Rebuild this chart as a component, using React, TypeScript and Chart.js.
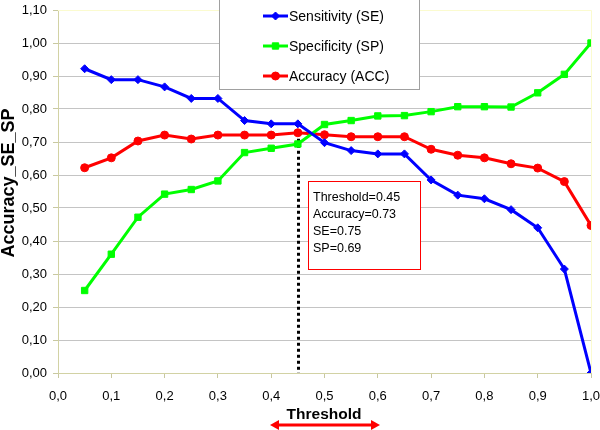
import React, { useEffect, useRef } from "react";
import { Chart, registerables } from "chart.js";

Chart.register(...registerables);

const thresholds = [0.05, 0.1, 0.15, 0.2, 0.25, 0.3, 0.35, 0.4, 0.45, 0.5, 0.55, 0.6, 0.65, 0.7, 0.75, 0.8, 0.85, 0.9, 0.95, 1.0];
const sensitivity = [0.922, 0.889, 0.889, 0.867, 0.832, 0.832, 0.765, 0.755, 0.755, 0.698, 0.674, 0.664, 0.664, 0.585, 0.539, 0.528, 0.495, 0.44, 0.315, 0.0];
const specificity = [0.25, 0.36, 0.472, 0.542, 0.556, 0.582, 0.668, 0.681, 0.694, 0.753, 0.765, 0.779, 0.78, 0.792, 0.807, 0.807, 0.806, 0.849, 0.905, 1.0];
const accuracy = [0.622, 0.652, 0.703, 0.721, 0.709, 0.721, 0.721, 0.721, 0.728, 0.722, 0.716, 0.716, 0.716, 0.678, 0.66, 0.652, 0.634, 0.621, 0.58, 0.447];

const seriesNames = ["Sensitivity (SE)", "Specificity (SP)", "Accuracy (ACC)"];
const seriesColors = ["#0000ff", "#00ff00", "#ff0000"];
const seriesMarkers = ["rectRot", "rect", "circle"];
const seriesRadii = [4, 4.5, 4];

const cutThreshold = 0.45;
const cutAccuracy = 0.728;
const annotationLines = ["Threshold=0.45", "Accuracy=0.73", "SE=0.75", "SP=0.69"];
const xTitle = "Threshold";
const yTitle = "Accuracy_SE_SP";

const FONT = "'Liberation Sans', Arial, Helvetica, sans-serif";

function drawMarker(ctx: CanvasRenderingContext2D, style: string, x: number, y: number, r: number) {
  ctx.beginPath();
  if (style === "circle") {
    ctx.arc(x, y, r, 0, Math.PI * 2);
  } else if (style === "rect") {
    const s = Math.SQRT1_2 * r;
    ctx.rect(x - s, y - s, 2 * s, 2 * s);
  } else {
    ctx.moveTo(x, y - r);
    ctx.lineTo(x + r, y);
    ctx.lineTo(x, y + r);
    ctx.lineTo(x - r, y);
    ctx.closePath();
  }
  ctx.fill();
  ctx.stroke();
}

const overlay = {
  id: "overlay",
  beforeDatasetsDraw(chart: any) {
    const { ctx, scales } = chart;
    const x = Math.round(scales.x.getPixelForValue(cutThreshold)) + 0.5;
    const yTop = scales.y.getPixelForValue(cutAccuracy);
    const yBot = scales.y.getPixelForValue(0);
    ctx.save();
    ctx.strokeStyle = "#000";
    ctx.lineWidth = 3;
    ctx.setLineDash([3, 3]);
    ctx.beginPath();
    ctx.moveTo(x, yTop);
    ctx.lineTo(x, yBot);
    ctx.stroke();
    ctx.restore();
  },
  afterDraw(chart: any) {
    const { ctx, chartArea } = chart;
    ctx.save();
    // plot border top/right
    ctx.strokeStyle = "#fbfbcf";
    ctx.lineWidth = 1;
    ctx.beginPath();
    ctx.moveTo(chartArea.left, chartArea.top + 0.5);
    ctx.lineTo(chartArea.right + 0.5, chartArea.top + 0.5);
    ctx.lineTo(chartArea.right + 0.5, chartArea.bottom);
    ctx.stroke();

    // legend box
    ctx.fillStyle = "#fff";
    ctx.fillRect(219, -1, 200, 91);
    ctx.strokeStyle = "#a0a0a0";
    ctx.strokeRect(219.5, -1.5, 200, 91);
    ctx.font = `14px ${FONT}`;
    ctx.textBaseline = "middle";
    ctx.textAlign = "left";
    for (let i = 0; i < seriesNames.length; i++) {
      const yy = 16 + i * 30;
      ctx.strokeStyle = seriesColors[i];
      ctx.fillStyle = seriesColors[i];
      ctx.lineWidth = 3;
      ctx.beginPath();
      ctx.moveTo(263, yy);
      ctx.lineTo(288, yy);
      ctx.stroke();
      ctx.lineWidth = 1;
      drawMarker(ctx, seriesMarkers[i], 275.5, yy, seriesRadii[i]);
      ctx.fillStyle = "#000";
      ctx.fillText(seriesNames[i], 289, yy + 1);
    }

    // annotation box
    ctx.fillStyle = "#fff";
    ctx.fillRect(308, 181, 112, 88);
    ctx.strokeStyle = "#ff0000";
    ctx.lineWidth = 1;
    ctx.strokeRect(308.5, 181.5, 112, 88);
    ctx.fillStyle = "#000";
    ctx.font = `12.5px ${FONT}`;
    ctx.textBaseline = "middle";
    annotationLines.forEach((t, i) => ctx.fillText(t, 313, 197.5 + i * 17));

    // y title
    ctx.save();
    ctx.translate(9, 183);
    ctx.rotate(-Math.PI / 2);
    ctx.font = `bold 18px ${FONT}`;
    ctx.textAlign = "center";
    ctx.textBaseline = "middle";
    ctx.fillText(yTitle, 0, 0);
    ctx.restore();

    // x title
    ctx.font = `bold 15.5px ${FONT}`;
    ctx.textAlign = "center";
    ctx.textBaseline = "middle";
    ctx.fillText(xTitle, 324, 415);

    // double arrow
    ctx.strokeStyle = "#ff0000";
    ctx.fillStyle = "#ff0000";
    ctx.lineWidth = 3;
    ctx.beginPath();
    ctx.moveTo(276, 425);
    ctx.lineTo(374, 425);
    ctx.stroke();
    ctx.beginPath();
    ctx.moveTo(270, 425);
    ctx.lineTo(279, 420);
    ctx.lineTo(279, 430);
    ctx.closePath();
    ctx.fill();
    ctx.beginPath();
    ctx.moveTo(380, 425);
    ctx.lineTo(371, 420);
    ctx.lineTo(371, 430);
    ctx.closePath();
    ctx.fill();
    ctx.restore();
  },
};

export default function App() {
  const ref = useRef<HTMLCanvasElement | null>(null);
  useEffect(() => {
    if (!ref.current) return;
    const series = [sensitivity, specificity, accuracy];
    const chart = new Chart(ref.current, {
      type: "line",
      data: {
        datasets: series.map((vals, i) => ({
          label: seriesNames[i],
          data: thresholds.map((t, j) => ({ x: t, y: vals[j] })),
          borderColor: seriesColors[i],
          backgroundColor: seriesColors[i],
          borderWidth: 3,
          pointStyle: seriesMarkers[i] as any,
          pointRadius: seriesRadii[i],
          pointBorderWidth: 1,
          pointBorderColor: seriesColors[i],
          pointBackgroundColor: seriesColors[i],
          tension: 0,
        })),
      },
      options: {
        animation: false,
        responsive: false,
        devicePixelRatio: 1,
        layout: { padding: { top: 10, right: 9, left: 0, bottom: 0 } },
        plugins: { legend: { display: false }, tooltip: { enabled: false } },
        scales: {
          x: {
            type: "linear",
            min: 0,
            max: 1,
            afterFit: (s: any) => {
              s.height = 57;
              s.paddingLeft = 0;
              s.paddingRight = 0;
            },
            ticks: {
              stepSize: 0.1,
              color: "#000",
              font: { family: FONT, size: 13 },
              padding: 11,
              maxRotation: 0,
              callback: (v: any) => Number(v).toFixed(1).replace(".", ","),
            },
            grid: {
              drawOnChartArea: false,
              drawTicks: true,
              tickLength: 5,
              tickColor: "#c8c8a0",
            },
            border: { color: "#d2d2a4", width: 1 },
          },
          y: {
            type: "linear",
            min: 0,
            max: 1.1,
            afterFit: (s: any) => {
              s.width = 58;
              s.paddingTop = 0;
              s.paddingBottom = 0;
            },
            ticks: {
              stepSize: 0.1,
              color: "#000",
              font: { family: FONT, size: 13 },
              padding: 6,
              callback: (v: any) => Number(v).toFixed(2).replace(".", ","),
            },
            grid: {
              color: (c: any) => {
                const v = c.tick ? c.tick.value : 0;
                return v <= 0.001 || v >= 1.09 ? "rgba(0,0,0,0)" : "#c4c4c4";
              },
              tickColor: "#c8c8a0",
              tickLength: 5,
              lineWidth: 1,
            },
            border: { color: "#d2d2a4", width: 1 },
          },
        },
      },
      plugins: [overlay],
    });
    return () => chart.destroy();
  }, []);
  return (
    <div style={{ position: "fixed", left: 0, top: 0, width: 600, height: 430, background: "#fff" }}>
      <canvas ref={ref} width={600} height={430} />
    </div>
  );
}
